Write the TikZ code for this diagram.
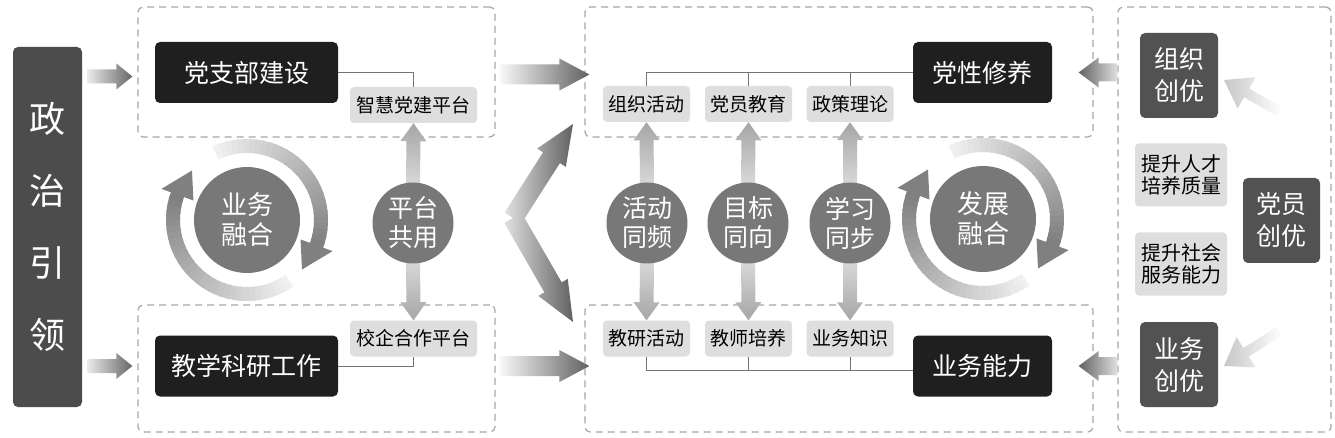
\documentclass[tikz,border=0pt]{standalone}
\usepackage{fontspec}
\setmainfont{Noto Sans CJK SC}
\usetikzlibrary{calc}
\pgfdeclarelayer{back}
\pgfdeclarelayer{bg}
\pgfsetlayers{back,bg,main}
% gradient arrow: [shade opts]{from}{to}{half shaft}{half head}{head length}
\newcommand\garrow[6][]{%
  \path (#2) coordinate (gA) (#3) coordinate (gB);
  \coordinate (gC) at ($(gB)!#6!(gA)$);
  \shade[#1] ($(gA)!#4!90:(gB)$) -- ($(gC)!#4!90:(gB)$) -- ($(gC)!#5!90:(gB)$) -- (gB)
    -- ($(gC)!#5!-90:(gB)$) -- ($(gC)!#4!-90:(gB)$) -- ($(gA)!#4!-90:(gB)$) -- cycle;}
% ring arrow: {center}{start angle}{end angle}{tip angle}
\newcommand\ringarrow[4]{%
  \foreach \i in {0,...,29}{%
    \pgfmathsetmacro\ta{#2+(#3-#2)*\i/30}%
    \pgfmathsetmacro\tb{#2+(#3-#2)*(\i+1.4)/30}%
    \pgfmathsetmacro\cc{6+44*\i/29}%
    \fill[black!\cc] ($(#1)+(\ta:81pt)$) arc[start angle=\ta, end angle=\tb, radius=81pt]
      -- ($(#1)+(\tb:67pt)$) arc[start angle=\tb, end angle=\ta, radius=67pt] -- cycle;
  }%
  \fill[black!50] ($(#1)+(#3:91pt)$) -- ($(#1)+(#4:74pt)$) -- ($(#1)+(#3:57pt)$) -- cycle;}
\begin{document}
\begin{tikzpicture}[x=1pt,y=-1pt,
  dashbox/.style={draw=black!35, dash pattern=on 7pt off 5pt, line width=1.2pt, rounded corners=5pt, inner sep=0pt},
  blackbox/.style={fill=black!88, text=white, rounded corners=5pt, font=\fontsize{25}{30}\selectfont, inner sep=0pt, minimum height=61pt},
  lightbox/.style={fill=black!13, text=black, rounded corners=4pt, font=\fontsize{19}{22}\selectfont, inner sep=0pt, minimum height=36pt, minimum width=87pt},
  twobox/.style={fill=black!13, text=black, rounded corners=4pt, font=\fontsize{20}{22}\selectfont, align=center, inner sep=0pt, minimum height=63pt, minimum width=92pt},
  darkbox/.style={fill=black!68, text=white, rounded corners=5pt, font=\fontsize{25}{32}\selectfont, align=center, inner sep=0pt, minimum width=78pt, minimum height=85pt},
  bigcircle/.style={circle, fill=black!53, text=white, font=\fontsize{26}{30}\selectfont, align=center, inner sep=0pt, minimum size=106pt},
  smallcircle/.style={circle, fill=black!53, text=white, font=\fontsize{25}{29}\selectfont, align=center, inner sep=0pt, minimum size=81pt},
  link/.style={draw=black!55, line width=1pt}
]
\useasboundingbox (0,0) rectangle (1335,438);

\begin{pgfonlayer}{back}
\fill[white] (0,0) rectangle (1335,438);
\node[dashbox, minimum width=357pt, minimum height=130pt] (gL1) at (316.5,72) {};
\node[dashbox, minimum width=357pt, minimum height=127pt] (gL2) at (316.5,368.5) {};
\node[dashbox, minimum width=508pt, minimum height=130pt] (gM1) at (839,72) {};
\node[dashbox, minimum width=508pt, minimum height=127pt] (gM2) at (839,368.5) {};
\node[dashbox, minimum width=213pt, minimum height=425pt] (gR) at (1224.5,219.5) {};
\end{pgfonlayer}

% left bar
\node[fill=black!70, rounded corners=5pt, text=white, minimum width=69pt, minimum height=360pt, inner sep=0pt,
  align=center, font=\fontsize{36}{72}\selectfont] (bar) at (47.5,227) {政\\治\\引\\领};

% left column
\node[blackbox, minimum width=183pt] (dzb) at (246.5,72.5) {党支部建设};
\node[blackbox, minimum width=183pt] (jxky) at (246.5,366) {教学科研工作};
\node[lightbox, minimum width=127pt] (zh) at (413.5,105) {智慧党建平台};
\node[lightbox, minimum width=127pt] (xq) at (413.5,338.5) {校企合作平台};
\node[bigcircle] (c1) at (247,220) {业务\\融合};
\node[smallcircle] (c2) at (413,223) {平台\\共用};

% middle
\node[blackbox, minimum width=139pt] (dxxy) at (982.5,72.5) {党性修养};
\node[blackbox, minimum width=139pt] (ywnl) at (982.5,366) {业务能力};
\node[lightbox] (m1) at (646.5,104) {组织活动};
\node[lightbox] (m2) at (748.5,104) {党员教育};
\node[lightbox] (m3) at (850,104) {政策理论};
\node[lightbox] (n1) at (646.5,338.5) {教研活动};
\node[lightbox] (n2) at (748.5,338.5) {教师培养};
\node[lightbox] (n3) at (850,338.5) {业务知识};
\node[smallcircle] (c3) at (647,223) {活动\\同频};
\node[smallcircle] (c4) at (748,223) {目标\\同向};
\node[smallcircle] (c5) at (850,223) {学习\\同步};
\node[bigcircle] (c6) at (983,219) {发展\\融合};

% right
\node[darkbox] (zz) at (1179,75.5) {组织\\创优};
\node[darkbox] (yw) at (1179,364.5) {业务\\创优};
\node[darkbox, minimum width=77pt] (dy) at (1281.5,220.5) {党员\\创优};
\node[twobox] (t1) at (1181,175) {提升人才\\培养质量};
\node[twobox] (t2) at (1181,264) {提升社会\\服务能力};

% thin connectors
\draw[link] (dzb.east) -| (zh.north);
\draw[link] (jxky.east) -| (xq.south);
\draw[link] (dxxy.west) -| (m1.north);
\draw[link] (m2.north) -- (m2.north |- dxxy.west);
\draw[link] (m3.north) -- (m3.north |- dxxy.west);
\draw[link] ($(ywnl.west)+(0,4)$) -| (n1.south);
\draw[link] (n2.south) -- (n2.south |- {$(ywnl.west)+(0,4)$});
\draw[link] (n3.south) -- (n3.south |- {$(ywnl.west)+(0,4)$});

\coordinate (V) at (513,218);
\coordinate (T1) at (573,124);
\coordinate (T2) at (573,322);
\coordinate (f1) at (1280,112);
\coordinate (f1t) at (1224,80);
\coordinate (f2) at (1280,331);
\coordinate (f2t) at (1224,366);

\begin{pgfonlayer}{bg}
% left bar arrows
\garrow[left color=black!8, right color=black!60]{$(bar.east|-dzb.west)+(5,4)$}{$(gL1.west|-dzb.west)+(-5,4)$}{7pt}{13pt}{16pt}
\garrow[left color=black!8, right color=black!60]{$(bar.east|-jxky.west)+(5,0)$}{$(gL2.west|-jxky.west)+(-5,0)$}{7pt}{13pt}{16pt}
% left to middle
\garrow[left color=black!3, right color=black!62]{$(gL1.east|-dzb.west)+(5,2)$}{$(gM1.west|-dzb.west)+(5,2)$}{10pt}{16pt}{30pt}
\garrow[left color=black!3, right color=black!62]{$(gL2.east|-jxky.west)+(5,0)$}{$(gM2.west|-jxky.west)+(5,0)$}{10pt}{16pt}{30pt}
% chevron
\garrow[left color=black!12, right color=black!62]{V}{T1}{10pt}{17pt}{40pt}
\garrow[left color=black!12, right color=black!62]{V}{T2}{10pt}{17pt}{40pt}
% right to middle
\garrow[left color=black!62, right color=black!12]{gR.west|-dxxy.east}{$(gM1.east|-dxxy.east)+(-15,0)$}{9pt}{15pt}{20pt}
\garrow[left color=black!62, right color=black!12]{gR.west|-ywnl.east}{$(gM2.east|-ywnl.east)+(-15,0)$}{9pt}{15pt}{20pt}
% faint arrows
\garrow[left color=black!22, right color=white]{f1}{f1t}{5pt}{18pt}{26pt}
\garrow[left color=black!22, right color=white]{f2}{f2t}{5pt}{18pt}{26pt}
% vertical arrows
\foreach \c/\u/\d in {c2/zh/xq, c3/m1/n1, c4/m2/n2, c5/m3/n3}{
  \garrow[top color=black!35, bottom color=black!12]{$(\c.north)+(0,12)$}{\u.south}{7pt}{13pt}{18pt}
  \garrow[top color=black!12, bottom color=black!35]{$(\c.south)+(0,-12)$}{\d.north}{7pt}{13pt}{18pt}
}
% rings
\ringarrow{c1.center}{305}{160}{138}
\ringarrow{c1.center}{115}{-20}{-42}
\ringarrow{c6.center}{305}{160}{138}
\ringarrow{c6.center}{115}{-20}{-42}
\end{pgfonlayer}
\end{tikzpicture}
\end{document}
